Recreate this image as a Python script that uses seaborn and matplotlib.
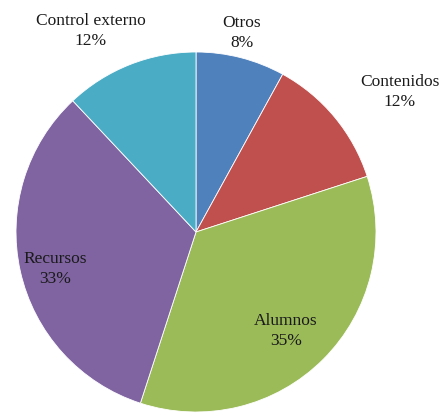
import matplotlib
matplotlib.use("Agg")
import matplotlib.pyplot as plt
import seaborn as sns

categories = ["Otros", "Contenidos", "Alumnos", "Recursos", "Control externo"]
values = [8, 12, 35, 33, 12]
colors = ["#4F81BD", "#C0504D", "#9BBB59", "#8064A2", "#4BACC6"]

sns.set_style("white")
plt.rcParams['font.family'] = ['Liberation Serif', 'DejaVu Serif']

W, H = 443, 414
fig = plt.figure(figsize=(W / 100, H / 100), dpi=100)
cx, cy, r = 196, 233, 180
ax = fig.add_axes([(cx - r) / W, (H - cy - r) / H, 2 * r / W, 2 * r / H])
wedges, _ = ax.pie(values, colors=colors, startangle=90, counterclock=False,
                   radius=1, wedgeprops=dict(edgecolor="white", linewidth=0.6))
ax.set_xlim(-1, 1)
ax.set_ylim(-1, 1)
ax.set_aspect("auto")
ax.axis("off")

# label positions in figure pixels (x, y from top)
label_pos = {
    "Otros": (242, 33),
    "Contenidos": (400, 92),
    "Alumnos": (286, 331),
    "Recursos": (55, 269),
    "Control externo": (91, 31),
}
for cat, val in zip(categories, values):
    px, py = label_pos[cat]
    fig.text(px / W, 1 - py / H, f"{cat}\n{val}%", ha="center", va="center",
             fontsize=12.5, color="#1a1a1a", linespacing=1.4)

fig.savefig("out.png", dpi=100, facecolor="white")
